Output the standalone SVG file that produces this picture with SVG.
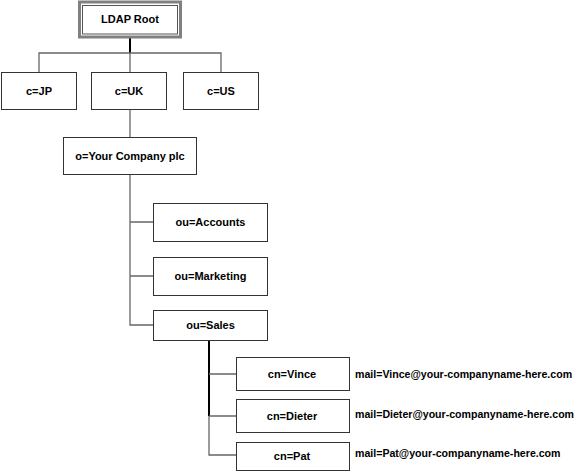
<svg xmlns="http://www.w3.org/2000/svg" width="577" height="472" viewBox="0 0 577 472">
<style>
text{font-family:"Liberation Sans",Arial,sans-serif;font-weight:bold;font-size:11px;fill:#000}
.lbl{text-anchor:middle}
.box{fill:#fff;stroke:#333;stroke-width:1}
.ln{stroke:#666;stroke-width:1.3;fill:none}
.bk{stroke:#000;stroke-width:2;fill:none}
.mail{font-size:10.6px}
</style>
<rect width="577" height="472" fill="#fff"/>
<g id="connectors">
<line class="bk" x1="130" y1="38" x2="130" y2="53"/>
<path class="ln" d="M39,72V53H221V72M130,53V72"/>
<path class="ln" d="M130,110V137"/>
<path class="ln" d="M130,174V325H153M130,222H153M130,276H153"/>
<line class="bk" x1="209" y1="341" x2="209" y2="416"/>
<path class="ln" d="M209,416V455H236M209,374H236M209,416H236"/>
</g>
<g id="root">
<rect x="79.5" y="2" width="101" height="35" fill="#fff" stroke="#808080" stroke-width="3"/>
<rect x="82.5" y="5.5" width="95" height="28.5" fill="none" stroke="#555" stroke-width="1"/>
<text class="lbl" x="130" y="23">LDAP Root</text>
</g>
<g id="c-jp"><rect class="box" x="1.5" y="72.5" width="75" height="37"/><text class="lbl" x="39" y="95">c=JP</text></g>
<g id="c-uk"><rect class="box" x="91.5" y="72.5" width="75" height="37"/><text class="lbl" x="129" y="95">c=UK</text></g>
<g id="c-us"><rect class="box" x="183.5" y="72.5" width="75" height="37"/><text class="lbl" x="221" y="95">c=US</text></g>
<g id="o-company"><rect class="box" x="63.5" y="137.5" width="133" height="37"/><text class="lbl" x="130" y="160">o=Your Company plc</text></g>
<g id="ou-accounts"><rect class="box" x="153.5" y="203.5" width="114" height="38"/><text class="lbl" x="210.5" y="226">ou=Accounts</text></g>
<g id="ou-marketing"><rect class="box" x="153.5" y="257.5" width="114" height="38"/><text class="lbl" x="210.5" y="280">ou=Marketing</text></g>
<g id="ou-sales"><rect class="box" x="153.5" y="310.5" width="114" height="30"/><text class="lbl" x="210.5" y="329">ou=Sales</text></g>
<g id="cn-vince"><rect class="box" x="236.5" y="357.5" width="113" height="33"/><text class="lbl" x="292" y="378">cn=Vince</text></g>
<g id="cn-dieter"><rect class="box" x="236.5" y="399.5" width="113" height="33"/><text class="lbl" x="292" y="420">cn=Dieter</text></g>
<g id="cn-pat"><rect class="box" x="236.5" y="442.5" width="113" height="28"/><text class="lbl" x="292" y="460">cn=Pat</text></g>
<g id="mails">
<text class="mail" x="355" y="378">mail=Vince@your-companyname-here.com</text>
<text class="mail" x="355" y="418">mail=Dieter@your-companyname-here.com</text>
<text class="mail" x="355" y="457">mail=Pat@your-companyname-here.com</text>
</g>
</svg>
